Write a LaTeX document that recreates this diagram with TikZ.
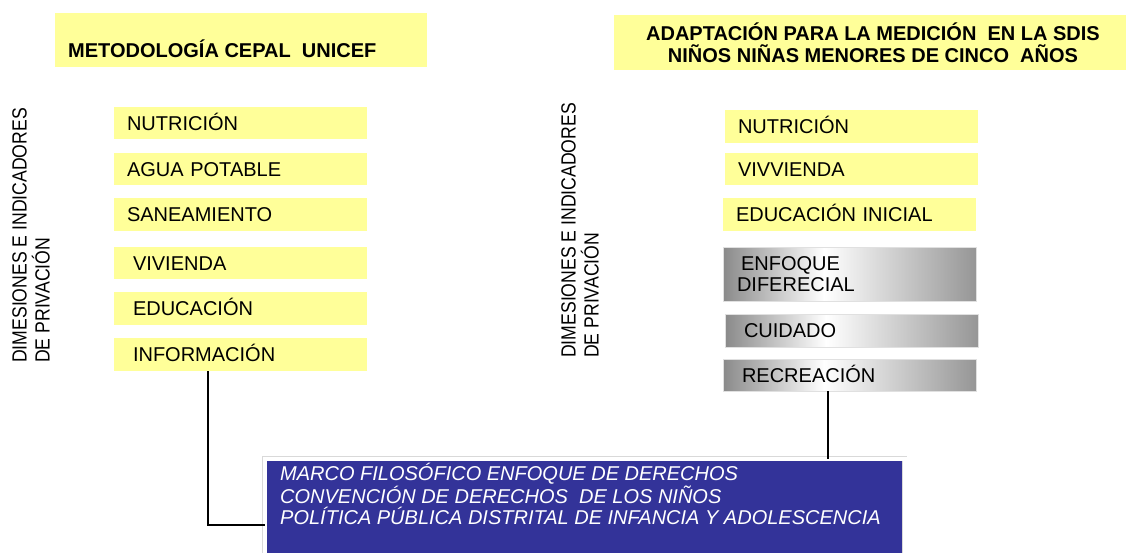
\documentclass[tikz,border=0pt]{standalone}
\usepackage{fontspec}
\setmainfont{Liberation Sans}
\newfontfamily\narrowsans[FakeStretch=0.86]{Liberation Sans}
\definecolor{paleyellow}{RGB}{255,255,153}
\definecolor{marcoblue}{RGB}{51,51,153}
\definecolor{bandgray}{RGB}{138,138,138}
\definecolor{bandgrayright}{RGB}{150,150,150}
\pgfdeclarehorizontalshading{grayband}{100bp}{color(0bp)=(bandgray); color(25bp)=(bandgray); color(45bp)=(white); color(75bp)=(bandgrayright); color(100bp)=(bandgrayright)}
\tikzset{
    titlebox/.style={fill=paleyellow, anchor=north west, inner sep=0pt, outer sep=0pt},
    titletext/.style={font=\bfseries\fontsize{20}{22}\selectfont, inner sep=0pt},
    itembox/.style={fill=paleyellow, anchor=north west, outer sep=0pt,
        minimum width=253pt, minimum height=32pt, inner xsep=13pt, inner ysep=0pt,
        text width=227pt, align=left, text height=14.3pt, text depth=0pt,
        font=\fontsize{20}{21}\selectfont},
    deep/.style={inner xsep=19pt, text width=215pt},
    grayitem/.style={itembox, shade, shading=grayband, draw=black!12},
    sidelabel/.style={rotate=90, anchor=north west, align=left, inner sep=0pt,
        font=\narrowsans\fontsize{20.5}{23}\selectfont},
    marcobox/.style={anchor=north west, fill=marcoblue, draw=black!15, double=white,
        double distance=4pt, outer sep=0pt, minimum width=640pt, minimum height=110pt},
    marcotext/.style={anchor=base west, text=white, inner sep=0pt, align=left,
        font=\itshape\fontsize{20}{21}\selectfont},
    link/.style={line width=1.5pt, black}
}
\begin{document}
\begin{tikzpicture}[x=1pt, y=-1pt]
        \useasboundingbox 
            (0,0) rectangle (1126,552);
        \node 
            [titlebox, minimum width=372pt, minimum height=54pt] (cepal) at (55,13) {};
        \node 
            [titletext, anchor=base west] (cepaltxt) at ([xshift=13pt, yshift=10pt]cepal.south west) {METODOLOGÍA CEPAL\ \ UNICEF};
        \node 
            [titlebox, minimum width=512pt, minimum height=55pt, align=center, font=\bfseries\fontsize{20}{22}\selectfont] (sdis) at (614,15) {\hspace{6pt}ADAPTACIÓN PARA LA MEDICIÓN\ \ EN LA SDIS\\\hspace{6pt}NIÑOS NIÑAS MENORES DE CINCO\ \ AÑOS};
        \node 
            [sidelabel] (dimcepal) at (12,363) {DIMESIONES E INDICADORES\\DE PRIVACIÓN};
        \node 
            [sidelabel] (dimsdis) at (561,358) {DIMESIONES E INDICADORES\\DE PRIVACIÓN};
        \node 
            [itembox] (nutri) at (114,107) {NUTRICIÓN};
        \node 
            [itembox] (agua) at (114,153) {AGUA POTABLE};
        \node 
            [itembox, minimum height=33pt] (sanea) at (114,198) {SANEAMIENTO};
        \node 
            [itembox, deep] (vivi) at (114,247) {VIVIENDA};
        \node 
            [itembox, deep, minimum height=33pt] (educ) at (114,292) {EDUCACIÓN};
        \node 
            [itembox, deep, minimum height=33pt] (info) at (114,338) {INFORMACIÓN};
        \node 
            [itembox, minimum height=33pt] (nutrisd) at (725,110) {NUTRICIÓN};
        \node 
            [itembox] (vivvi) at (725,153) {VIVVIENDA};
        \node 
            [itembox, minimum height=33pt] (inicial) at (723,198) {EDUCACIÓN INICIAL};
        \node 
            [grayitem, inner xsep=14pt, text width=225pt, minimum height=54pt, text depth=21pt] (enfoque) at (723,247) {\hspace{4pt}ENFOQUE\\DIFERECIAL};
        \node 
            [grayitem, deep, minimum height=33pt] (cuida) at (725,314) {CUIDADO};
        \node 
            [grayitem, deep] (recrea) at (723,359) {RECREACIÓN};
        \node 
            [marcobox] (marco) at (264.5,458.5) {};
        \node 
            [marcotext] (marcotxt) at ([xshift=15.5pt, yshift=-65.5pt]marco.north west) {MARCO FILOSÓFICO ENFOQUE DE DERECHOS\\CONVENCIÓN DE DERECHOS\ \ DE LOS NIÑOS\\POLÍTICA PÚBLICA DISTRITAL DE INFANCIA Y ADOLESCENCIA};
        \coordinate 
            (infoleg) at ([xshift=94pt]info.south west);
        \coordinate 
            (recleg) at ([xshift=105pt]recrea.south west);
        \draw 
            [link] (infoleg) |- ([yshift=-66.5pt]marco.north west);
        \draw 
            [link] (recleg) -- (recleg |- marco.north);
    \end{tikzpicture}
\end{document}
